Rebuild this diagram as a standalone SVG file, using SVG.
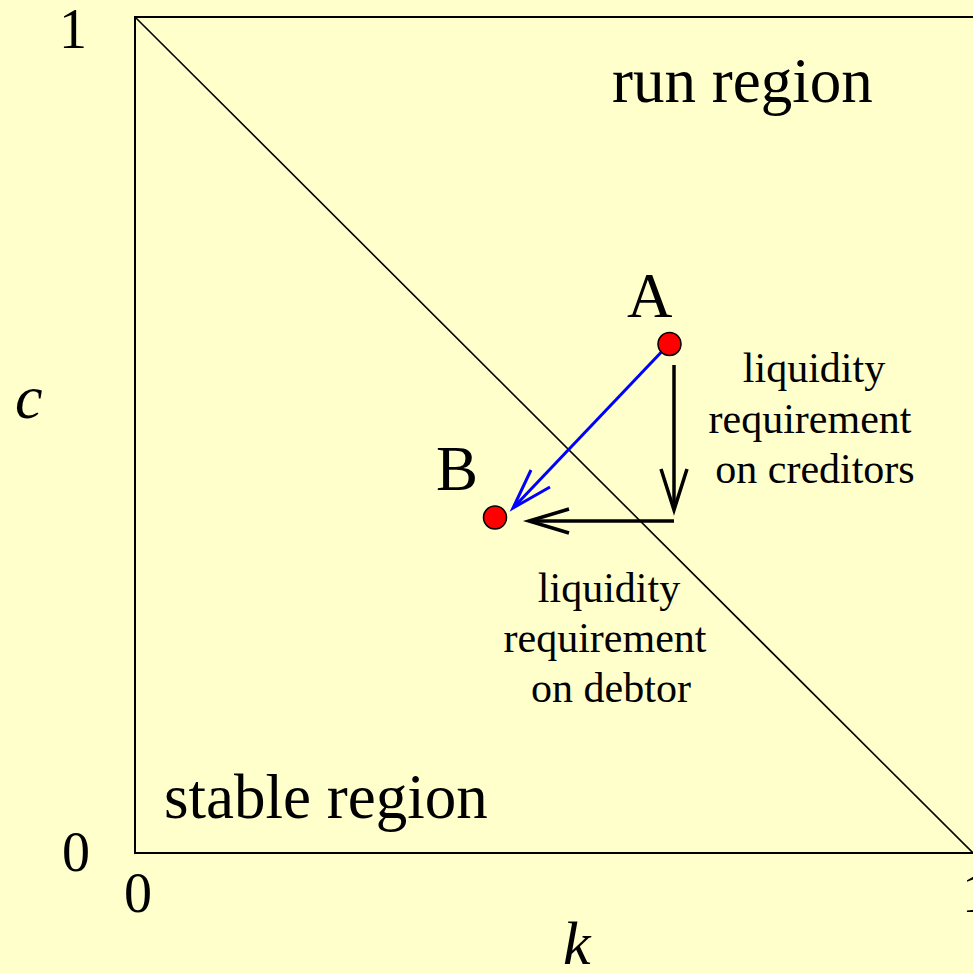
<svg xmlns="http://www.w3.org/2000/svg" width="973" height="973" viewBox="0 0 973 973">
<style>
text{font-family:"Liberation Serif","Times New Roman",serif;fill:#000}
.big{font-size:63px}
.num{font-size:56px}
.lab{font-size:42px;text-anchor:middle}
.it{font-style:italic;font-size:62px}
.frame{fill:none;stroke:#000;stroke-width:2}
.blk{fill:none;stroke:#000;stroke-width:3.5}
.blu{fill:none;stroke:#0000FF;stroke-width:3}
.pt{fill:#FF0000;stroke:#000;stroke-width:1.5}
</style>
<rect x="0" y="0" width="973" height="973" fill="#FFFFCC"/>
<g id="axes">
<polyline class="frame" points="980,17 135,17 135,853 980,853"/>
<line x1="135" y1="17" x2="973" y2="853" stroke="#000" stroke-width="1.6"/>
<text class="num" x="59" y="48">1</text>
<text class="num" x="62" y="871">0</text>
<text class="num" x="124" y="912">0</text>
<text class="num" x="962" y="912">1</text>
<text class="it" x="15" y="418">c</text>
<text class="it" x="563" y="964">k</text>
</g>
<g id="regions">
<text class="big" x="612" y="102">run region</text>
<text class="big" x="164" y="818">stable region</text>
</g>
<g id="connectors">
<line class="blu" x1="669" y1="344" x2="514" y2="507"/>
<polyline class="blu" points="531,470 513,508 550,487"/>
<line class="blk" x1="674" y1="365" x2="674" y2="508"/>
<polyline class="blk" points="661,469 674,510 687,469"/>
<line class="blk" x1="674" y1="521" x2="532" y2="521"/>
<polyline class="blk" points="569,509 529,521 569,533"/>
</g>
<g id="A">
<circle class="pt" cx="669.5" cy="344" r="11.5"/>
<text class="big" x="627" y="317">A</text>
</g>
<g id="B">
<circle class="pt" cx="495" cy="517.5" r="11.5"/>
<text class="big" x="436" y="490">B</text>
</g>
<g id="label-creditors">
<text class="lab" x="814" y="382">liquidity</text>
<text class="lab" x="810" y="433">requirement</text>
<text class="lab" x="815" y="483">on creditors</text>
</g>
<g id="label-debtor">
<text class="lab" x="609" y="602">liquidity</text>
<text class="lab" x="605" y="652">requirement</text>
<text class="lab" x="611" y="702">on debtor</text>
</g>
</svg>
